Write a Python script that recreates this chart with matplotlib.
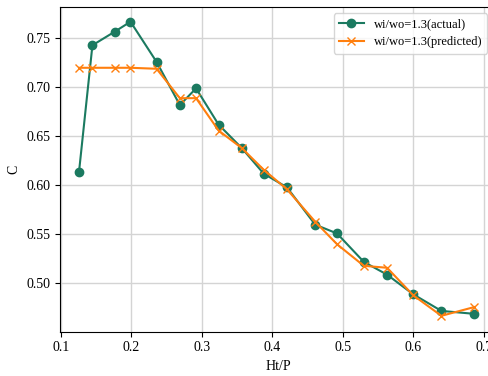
import matplotlib
matplotlib.use("Agg")
import matplotlib.pyplot as plt

# Ht/P sample points
ht_p = [0.126, 0.145, 0.177, 0.199, 0.236, 0.269, 0.292, 0.324, 0.357, 0.388,
        0.421, 0.461, 0.492, 0.530, 0.563, 0.600, 0.640, 0.687]

# measured coefficient C
c_actual = [0.614, 0.743, 0.757, 0.767, 0.726, 0.682, 0.699, 0.662, 0.638, 0.612,
            0.598, 0.560, 0.551, 0.522, 0.509, 0.489, 0.472, 0.469]

# model prediction of C
c_predicted = [0.720, 0.720, 0.720, 0.720, 0.719, 0.689, 0.689, 0.656, 0.638, 0.616,
               0.596, 0.563, 0.540, 0.518, 0.516, 0.488, 0.467, 0.476]

plt.rcParams["font.family"] = ["Liberation Serif", "DejaVu Serif"]

fig = plt.figure(figsize=(4.89, 3.76), dpi=100)
# axes run slightly past the right edge of the canvas
ax = fig.add_axes([60 / 489, 44.3 / 376, 436 / 489, 324.7 / 376])

ax.plot(ht_p, c_actual, color="#1b7a60", marker="o", markersize=6,
        linewidth=1.5, label="wi/wo=1.3(actual)")
ax.plot(ht_p, c_predicted, color="#ff7f0e", marker="x", markersize=6,
        linewidth=1.5, label="wi/wo=1.3(predicted)")

ax.set_xlim(0.099, 0.7175)
ax.set_ylim(0.4508, 0.782)
ax.set_xticks([0.1, 0.2, 0.3, 0.4, 0.5, 0.6, 0.7])
ax.set_yticks([0.50, 0.55, 0.60, 0.65, 0.70, 0.75])
ax.set_yticklabels(["0.50", "0.55", "0.60", "0.65", "0.70", "0.75"])
ax.set_xlabel("Ht/P", fontsize=10)
ax.set_ylabel("C", fontsize=10)
ax.tick_params(labelsize=10)
ax.grid(True, color="#d4d4d4", linewidth=1.0)
ax.legend(loc="upper right", fontsize=9, bbox_to_anchor=(0.9937, 1.0))

fig.savefig("out.png", dpi=100)
